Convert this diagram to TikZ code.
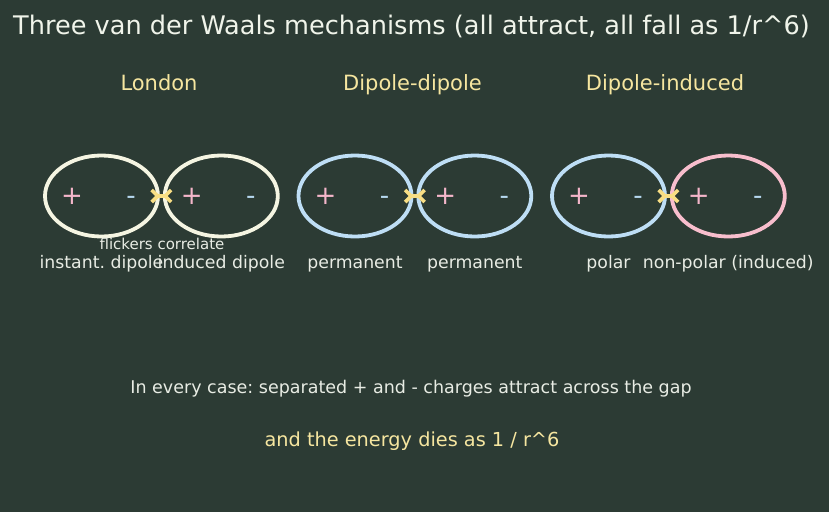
\documentclass[tikz,border=0pt]{standalone}
\usepackage{fontspec}
\setmainfont{DejaVu Sans}
\usetikzlibrary{arrows.meta,positioning,shapes.geometric}
\definecolor{board}{RGB}{44,59,52}
\definecolor{chalk}{RGB}{240,244,234}
\definecolor{headyellow}{RGB}{246,230,160}
\definecolor{labelgrey}{RGB}{232,236,228}
\definecolor{cream}{RGB}{245,245,226}
\definecolor{skyblue}{RGB}{190,222,245}
\definecolor{rosepink}{RGB}{248,190,205}
\definecolor{pluspink}{RGB}{244,182,202}
\definecolor{minusblue}{RGB}{182,216,240}
\definecolor{bondyellow}{RGB}{248,222,132}
\frenchspacing

\begin{document}
\begin{tikzpicture}[x=1pt, y=-1pt, node distance=3pt,
  mol/.style={draw, ellipse, line width=3.8pt, minimum width=113pt, minimum height=81pt, inner sep=0pt},
  poscharge/.style={text=pluspink, font=\fontsize{26}{26}\selectfont, inner sep=0pt, anchor=base},
  negcharge/.style={text=minusblue, font=\fontsize{26}{26}\selectfont, inner sep=0pt, anchor=base},
  pull/.style={draw=bondyellow, line width=3.6pt, line cap=round, >={Straight Barb[length=6pt,width=12pt]}, >-<},
  head/.style={text=headyellow, font=\fontsize{21}{24}\selectfont, anchor=base},
  tag/.style={text=labelgrey, font=\fontsize{17.3}{20}\selectfont, anchor=base}]
  \fill[board] (0,0) rectangle (829,512);

  \node[text=chalk, font=\fontsize{25.6}{30}\selectfont, anchor=base] (title) at (411.5,34.5) {Three van der Waals mechanisms (all attract, all fall as 1/r\^{}6)};

  % the three pairs of molecules
  \node[mol, draw=cream] (lonA) at (101.5,196) {};
  \node[mol, draw=cream, right=of lonA] (lonB) {};
  \node[mol, draw=skyblue] (dipA) at (355,196) {};
  \node[mol, draw=skyblue, right=of dipA] (dipB) {};
  \node[mol, draw=skyblue] (indA) at (608.5,196) {};
  \node[mol, draw=rosepink, right=of indA] (indB) {};

  \foreach \m in {lonA,lonB,dipA,dipB,indA,indB} {
    \node[poscharge] (\m-plus) at ([xshift=-29.5pt,yshift=-8.5pt]\m.center) {+};
    \node[negcharge] (\m-minus) at ([xshift=29.5pt,yshift=-8.5pt]\m.center) {-};
  }

  \draw[pull] ([xshift=-10pt]lonA.east) -- ([xshift=10pt]lonB.west);
  \draw[pull] ([xshift=-10pt]dipA.east) -- ([xshift=10pt]dipB.west);
  \draw[pull] ([xshift=-10pt]indA.east) -- ([xshift=10pt]indB.west);

  \node[head] (london) at (159,90.7) {London};
  \node[head] (dipdip) at (412.5,90.7) {Dipole-dipole};
  \node[head] (dipind) at (665,90.7) {Dipole-induced};

  \node[tag] (instant) at ([yshift=-72pt]lonA.center) {instant. dipole};
  \node[tag] (induced) at ([yshift=-72pt]lonB.center) {induced dipole};
  \node[text=labelgrey, font=\fontsize{15}{18}\selectfont, anchor=base] (flicker) at (162,249) {flickers correlate};
  \node[tag] (permA) at ([yshift=-72pt]dipA.center) {permanent};
  \node[tag] (permB) at ([yshift=-72pt]dipB.center) {permanent};
  \node[tag] (polar) at ([yshift=-72pt]indA.center) {polar};
  \node[tag] (nonpolar) at ([yshift=-72pt]indB.center) {non-polar (induced)};

  \node[text=labelgrey, font=\fontsize{17.5}{20}\selectfont, anchor=base] (every) at (411,393) {In every case: separated + and - charges attract across the gap};
  \node[text=headyellow, font=\fontsize{19.3}{22}\selectfont, anchor=base] (energy) at (412,446) {and the energy dies as 1 / r\^{}6};
\end{tikzpicture}
\end{document}
